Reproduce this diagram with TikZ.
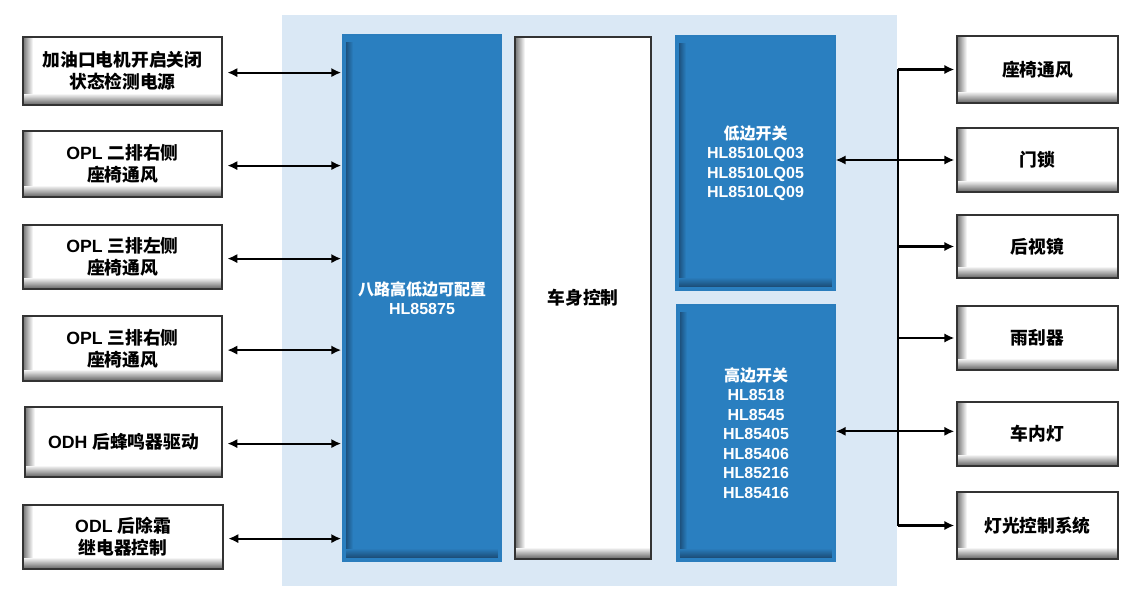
\documentclass[tikz,border=0pt]{standalone}
\usepackage{fontspec}
\setmainfont{Liberation Sans}
\newfontfamily\cjk{Noto Sans CJK SC}
\usetikzlibrary{arrows.meta}
\newcommand\zh[1]{{\cjk #1}}
\definecolor{bgblue}{HTML}{DAE8F5}
\definecolor{blk}{HTML}{2A7FC0}
\definecolor{blkedge}{HTML}{2A7DBD}
\definecolor{blkshadow}{HTML}{173F63}
\tikzset{
  rect/.style n args={4}{minimum width={(#3-#1)*0.75pt}, minimum height={(#4-#2)*0.75pt}},
  wbox/.style={draw=black!80, line width=1pt, fill=white, inner sep=0pt, align=center,
    font=\fontsize{13.3}{16.5}\selectfont\bfseries,
    path picture={
      \foreach \k in {0,...,9}{
        \pgfmathsetmacro\cc{int(55-\k*5.5)}
        \fill[black!\cc] ([xshift={\k*0.75pt}, yshift=7.5pt]path picture bounding box.south west) rectangle ([xshift={(\k+1)*0.75pt}]path picture bounding box.north west);
      }
      \foreach \k in {0,...,10}{
        \pgfmathsetmacro\cc{int(58-\k*5.3)}
        \fill[black!\cc] ([yshift={\k*0.75pt}]path picture bounding box.south west) rectangle ([yshift={(\k+1)*0.75pt}]path picture bounding box.south east);
      }
    }},
  bbox/.style={draw=blkedge, line width=1pt, fill=blk, inner sep=0pt, align=center, text=white,
    font=\fontsize{12}{14.6}\selectfont\bfseries,
    path picture={
      \foreach \k in {0,...,6}{
        \pgfmathsetmacro\cc{int(70-\k*10)}
        \fill[blkshadow!\cc!blk] ([xshift={(2+\k*0.75)*1pt}, yshift=8pt]path picture bounding box.south west) rectangle ([xshift={(2+(\k+1)*0.75)*1pt}, yshift=-5pt]path picture bounding box.north west);
      }
      \foreach \k in {0,...,8}{
        \pgfmathsetmacro\cc{int(75-\k*8.3)}
        \fill[blkshadow!\cc!blk] ([xshift=2pt, yshift={(2+\k*0.75)*1pt}]path picture bounding box.south west) rectangle ([xshift=-2pt, yshift={(2+(\k+1)*0.75)*1pt}]path picture bounding box.south east);
      }
    }},
  conn/.style={line width=1.6pt, black},
  tip/.style={-{Latex[length=7.5pt,width=7pt]}},
  tips/.style={{Latex[length=7.5pt,width=7pt]}-{Latex[length=7.5pt,width=7pt]}},
}
\newcommand\bx[7]{\node[#1, rect={#3}{#4}{#5}{#6}] (#2) at ({(#3+#5)/2},{(#4+#6)/2}) {#7};}
\begin{document}
\begin{tikzpicture}[x=0.75pt,y=-0.75pt]
\useasboundingbox (0,0) rectangle (1142,606);
\fill[bgblue] (282,15) rectangle (897,586);
% left boxes
\bx{wbox}{L1}{23}{37}{222}{105}{\zh{加油口电机开启关闭}\\\zh{状态检测电源}}
\bx{wbox}{L2}{23}{131}{222}{197}{OPL \zh{二排右侧}\\\zh{座椅通风}}
\bx{wbox}{L3}{23}{225}{222}{289}{OPL \zh{三排左侧}\\\zh{座椅通风}}
\bx{wbox}{L4}{23}{316}{222}{381}{OPL \zh{三排右侧}\\\zh{座椅通风}}
\bx{wbox}{L5}{25}{407}{222}{477}{ODH \zh{后蜂鸣器驱动}}
\bx{wbox}{L6}{23}{505}{223}{569}{ODL \zh{后除霜}\\\zh{继电器控制}}
% central blocks
\bx{bbox}{B1}{343}{35}{501}{561}{\zh{八路高低边可配置}\\HL85875}
\bx{wbox}{M}{515}{37}{651}{559}{\zh{车身控制}}
\bx{bbox}{B2}{676}{36}{835}{290}{\zh{低边开关}\\HL8510LQ03\\HL8510LQ05\\HL8510LQ09}
\bx{bbox}{B3}{677}{305}{835}{561}{\zh{高边开关}\\HL8518\\HL8545\\HL85405\\HL85406\\HL85216\\HL85416}
% right boxes
\bx{wbox}{R1}{957}{36}{1118}{103}{\zh{座椅通风}}
\bx{wbox}{R2}{957}{128}{1118}{192}{\zh{门锁}}
\bx{wbox}{R3}{957}{215}{1118}{278}{\zh{后视镜}}
\bx{wbox}{R4}{957}{306}{1118}{370}{\zh{雨刮器}}
\bx{wbox}{R5}{957}{402}{1118}{466}{\zh{车内灯}}
\bx{wbox}{R6}{957}{492}{1118}{559}{\zh{灯光控制系统}}
% left connectors
\foreach \i in {1,...,6}{
  \draw[conn, tips, shorten <=3.5pt, shorten >=0.8pt] ([yshift=-1.2pt]L\i.east) -- ([yshift=-1.2pt]B1.west |- L\i.east);
}
% right bus
\coordinate (bus) at (898,0);
\draw[conn] (bus |- R1.west) -- (bus |- R6.west);
\foreach \i in {1,3,4,6}{
  \draw[conn, tip, shorten >=1.5pt] (bus |- R\i.west) -- (R\i.west);
}
\draw[conn, tips, shorten >=1.5pt] (B2.east |- R2.west) -- (R2.west);
\draw[conn, tips, shorten >=1.5pt] ([yshift=2pt]B3.east |- R5.west) -- ([yshift=2pt]R5.west);
\end{tikzpicture}
\end{document}
